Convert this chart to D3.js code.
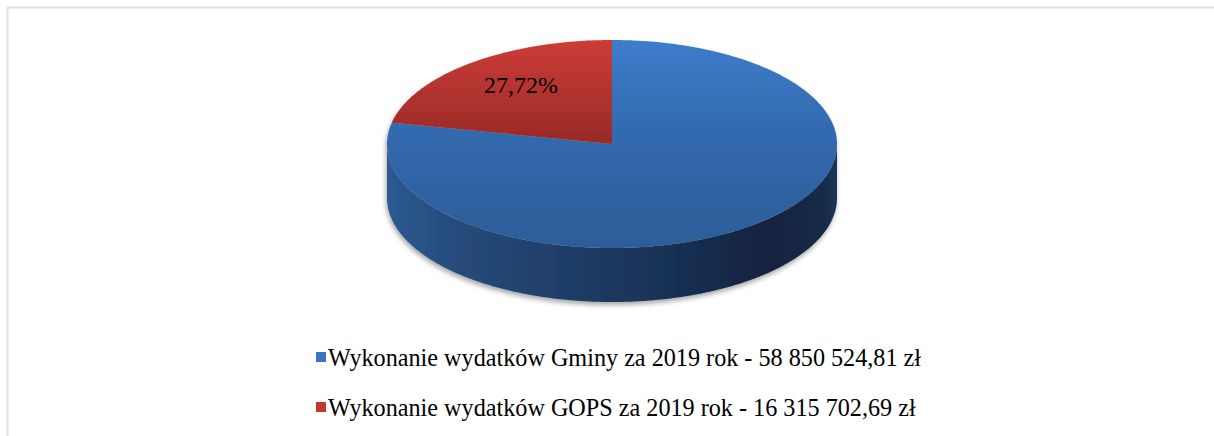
<!DOCTYPE html>
<html><head><meta charset="utf-8">
<script src="https://cdn.jsdelivr.net/npm/d3@7"></script>
<style>html,body{margin:0;padding:0;background:#fff;}svg{display:block;}</style>
</head><body>
<svg id="chart" width="1214" height="436"></svg>
<script>
const categories = ["Wykonanie wydatków Gminy za 2019 rok - 58 850 524,81 zł",
                    "Wykonanie wydatków GOPS za 2019 rok - 16 315 702,69 zł"];
const values = [58850524.81, 16315702.69];
const labels = [null, "27,72%"];
const colors = ["#3a76c2", "#c0392f"];

const svg = d3.select("#chart");
const cx = 612, cy = 144, rx = 225, ry = 104, depth = 54;

const defs = svg.append("defs");
svg.append("rect").attr("x", 7.5).attr("y", 7.5).attr("width", 1230).attr("height", 460)
  .attr("fill", "none").attr("stroke", "#d9e4f1").attr("stroke-width", 2);

const f = defs.append("filter").attr("id", "sh").attr("x", "-10%").attr("y", "-10%").attr("width", "120%").attr("height", "130%");
f.append("feDropShadow").attr("dx", -1).attr("dy", 3).attr("stdDeviation", 2.5).attr("flood-color", "#000").attr("flood-opacity", 0.35);

function lg(id, x1, y1, x2, y2, stops) {
  const g = defs.append("linearGradient").attr("id", id).attr("gradientUnits", "userSpaceOnUse")
    .attr("x1", x1).attr("y1", y1).attr("x2", x2).attr("y2", y2);
  stops.forEach(s => g.append("stop").attr("offset", s[0]).attr("stop-color", s[1]));
}
lg("topBlue", 0, cy - ry, 0, cy + ry, [[0, "#3d7ccb"], [0.5, "#3168ac"], [1, "#2c5d98"]]);
lg("topRed", 0, cy - ry, 0, cy, [[0, "#cc3c37"], [1, "#982a27"]]);
lg("sideBlue", cx - rx, 0, cx + rx, 0, [[0, "#2d5a92"], [0.15, "#264b7b"], [0.5, "#1c3860"], [0.85, "#13233f"], [0.97, "#162a47"], [1, "#1d3555"]]);
lg("sideRed", cx - rx, 0, cx + rx, 0, [[0, "#8a2522"], [1, "#4a1311"]]);

const pie = d3.pie().sort(null).startAngle(0).endAngle(2 * Math.PI);
const arcs = pie(values);

function pt(a, dy = 0) { return [cx + rx * Math.sin(a), cy - ry * Math.cos(a) + dy]; }
function samples(a0, a1, dy) {
  const n = Math.max(2, Math.ceil(Math.abs(a1 - a0) / 0.01));
  return d3.range(n + 1).map(i => pt(a0 + (a1 - a0) * i / n, dy));
}
const line = d3.line();

const g = svg.append("g").attr("filter", "url(#sh)");
arcs.forEach((d, i) => {
  const a0 = Math.max(d.startAngle, Math.PI / 2), a1 = Math.min(d.endAngle, 3 * Math.PI / 2);
  if (a1 <= a0) return;
  const top = samples(a0, a1, 0), bot = samples(a1, a0, depth);
  g.append("path").attr("d", line(top.concat(bot)) + "Z")
    .attr("fill", i === 0 ? "url(#sideBlue)" : "url(#sideRed)");
});
arcs.forEach((d, i) => {
  const pts = [[cx, cy]].concat(samples(d.startAngle, d.endAngle, 0));
  g.append("path").attr("d", line(pts) + "Z")
    .attr("fill", i === 0 ? "url(#topBlue)" : "url(#topRed)");
});

arcs.forEach((d, i) => {
  if (!labels[i]) return;
  const m = (d.startAngle + d.endAngle) / 2, r = 0.72;
  svg.append("text").attr("x", cx + rx * r * Math.sin(m) + 11).attr("y", cy - ry * r * Math.cos(m) - 1)
    .attr("text-anchor", "middle").attr("dominant-baseline", "central")
    .attr("font-family", "'Liberation Serif','Times New Roman',serif").attr("font-size", 24)
    .attr("fill", "#000").text(labels[i]);
});

const leg = svg.append("g");
const legY = d3.scalePoint().domain(categories).range([357, 407]);
const legColors = ["#3a74c0", "#c0392f"];
categories.forEach((c, i) => {
  leg.append("rect").attr("x", 316).attr("y", legY(c) - 5).attr("width", 10).attr("height", 10).attr("fill", legColors[i]);
  leg.append("text").attr("x", 328).attr("y", legY(c)).attr("dominant-baseline", "central")
    .attr("font-family", "'Liberation Serif','Times New Roman',serif").attr("font-size", 24.2)
    .attr("fill", "#000").text(c);
});
</script>
</body></html>
